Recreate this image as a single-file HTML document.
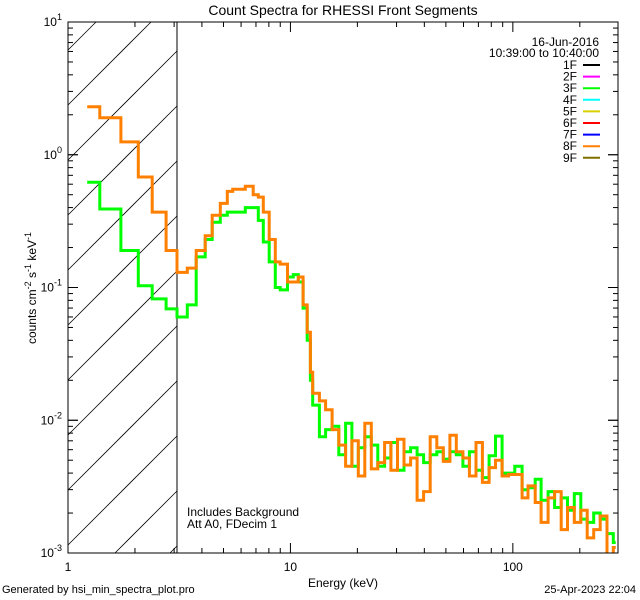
<!DOCTYPE html>
<html><head><meta charset="utf-8"><style>
html,body{margin:0;padding:0;background:#fff;overflow:hidden;width:640px;height:600px}
svg{display:block}
svg text{font-family:"Liberation Sans",sans-serif;fill:#000}
</style></head><body>
<svg id="chart" width="640" height="600" viewBox="0 0 640 600" xmlns="http://www.w3.org/2000/svg" overflow="hidden">
<rect width="640" height="600" fill="#fff"/>
<defs>
<clipPath id="pclip"><rect x="68" y="22" width="550" height="531"/></clipPath>
</defs>
<g id="hatch"></g>
<line x1="177" y1="22" x2="177" y2="553" stroke="#000" stroke-width="1"/>
<g id="series" clip-path="url(#pclip)"></g>
<rect x="68" y="22" width="550" height="531" fill="none" stroke="#000" stroke-width="1"/>
<g id="axes"></g>
<text x="343" y="15" font-size="14" text-anchor="middle">Count Spectra for RHESSI Front Segments</text>
<text x="343" y="587" font-size="12" text-anchor="middle">Energy (keV)</text>
<text transform="translate(36,288) rotate(-90)" font-size="12" text-anchor="middle">counts cm<tspan dy="-5" font-size="9">-2</tspan><tspan dy="5"> s</tspan><tspan dy="-5" font-size="9">-1</tspan><tspan dy="5"> keV</tspan><tspan dy="-5" font-size="9">-1</tspan></text>
<text x="187" y="516" font-size="12">Includes Background</text>
<text x="187" y="528" font-size="12">Att A0, FDecim 1</text>
<text x="2" y="593" font-size="11">Generated by hsi_min_spectra_plot.pro</text>
<text x="636" y="593" font-size="11" text-anchor="end">25-Apr-2023 22:04</text>
<text x="599" y="46" font-size="12" text-anchor="end">16-Jun-2016</text>
<text x="599" y="57" font-size="12" text-anchor="end">10:39:00 to 10:40:00</text>
<g id="legend"></g>
</svg>
<script>
const edges=[1.22,1.39,1.73,2.07,2.39,2.76,3.09,3.44,3.77,4.14,4.45,4.84,5.2,5.5,6.27,6.8,7.17,7.55,8.03,8.55,9.0,9.7,10.3,10.85,11.4,11.9,12.3,12.6,
13.5,14.4,15.4,16.5,17.7,18.9,20.2,21.6,23.1,24.7,26.5,28.3,30.3,32.4,34.7,37.1,39.7,42.5,45.5,48.7,52.1,55.7,59.6,63.8,68.3,73,78.2,83.6,89.5,95.7,102,110,117,126,134,144,154,165,176,189,202,216,231,247,265,283,290];
const seg8F=[2.3,1.9,1.25,0.68,0.37,0.19,0.13,0.14,0.19,0.245,0.35,0.43,0.53,0.55,0.58,0.5,0.48,0.37,0.23,0.156,0.15,0.11,0.11,0.12,0.074,0.046,0.023,
.016,.014,.012,.0085,.0065,.0045,.007,.0038,.0095,.0043,.0048,.0068,.0042,.0072,.0046,.0052,.0025,.0029,.0075,.0062,.0049,.0077,.0058,.0052,.0038,.0068,.0034,.0044,.005,.0038,.0039,.0039,.0026,.0032,.0024,.0017,.0026,.0029,.0015,.0022,.0017,.0021,.0013,.0015,.0019,.00095,.0011];
const seg3F=[0.62,0.39,0.19,0.103,0.082,0.069,0.06,0.074,0.17,0.23,0.31,0.35,0.37,0.37,0.4,0.4,0.32,0.22,0.156,0.1,0.096,0.12,0.125,0.11,0.07,0.04,0.02,
.013,.0075,.0085,.009,.0055,.0095,.0045,.0062,.0075,.0065,.0045,.0052,.0068,.0042,.0058,.0062,.0055,.0048,.0055,.0058,.0051,.0058,.0055,.0045,.0058,.0042,.0037,.0054,.0076,.004,.004,.0045,.003,.0031,.0036,.0025,.0029,.0022,.0026,.0021,.0028,.0018,.0017,.002,.0018,.0014,.0012];
const xTickLabels=["1","10","100"];
const yTickExps=["1","0","-1","-2","-3"];
const legendLabels=["1F","2F","3F","4F","5F","6F","7F","8F","9F"];
const legendColors=["#000000","#ff00ff","#00ff00","#00ffff","#d8d000","#ff0000","#0000ff","#ff8000","#807000"];

const NS="http://www.w3.org/2000/svg";
const X0=68,X1=618,Y0=22,Y1=553,XH=177;
const xmin=0,xmax=Math.log10(297),ymin=-3,ymax=1;
function sx(e){return X0+(Math.log10(e)-xmin)/(xmax-xmin)*(X1-X0);}
function sy(v){return Y1-(Math.log10(v)-ymin)/(ymax-ymin)*(Y1-Y0);}
function mk(t,a,p){const e=document.createElementNS(NS,t);for(const k in a)e.setAttribute(k,a[k]);p.appendChild(e);return e;}

const hatch=document.getElementById('hatch');
for(let c=Y0+28;c<Y1+(XH-X0);c+=55){
  let xa=X0,ya=c; if(ya>Y1){xa=X0+(ya-Y1);ya=Y1;}
  let xb=XH,yb=c-(XH-X0); if(yb<Y0){xb=X0+(c-Y0);yb=Y0;}
  const l=mk('line',{x1:xa,y1:ya,x2:xb,y2:yb,stroke:'#000','stroke-width':0.8},hatch);
  
  
}

const series=document.getElementById('series');
function drawSeries(vals,color,name){
  let d='';
  for(let i=0;i<vals.length;i++){
    const y=sy(vals[i]).toFixed(1);
    d+=(i===0?'M':'L')+sx(edges[i]).toFixed(1)+','+y+'L'+Math.min(sx(edges[i+1]),X1).toFixed(1)+','+y;
  }
  const p=mk('path',{d:d,fill:'none',stroke:color,'stroke-width':3,'stroke-linejoin':'miter'},series);
  
  
}
drawSeries(seg3F,'#00ff00','series-3f');
drawSeries(seg8F,'#ff8000','series-8f');

const axes=document.getElementById('axes');
for(let dec=0;dec<3;dec++){
  for(let m=1;m<10;m++){
    const e=Math.pow(10,dec)*m; if(e>297)break;
    const x=sx(e),len=(m===1)?10:5;
    const t1=mk('line',{x1:x,y1:Y1,x2:x,y2:Y1-len,stroke:'#000'},axes);
    
    
    const t2=mk('line',{x1:x,y1:Y0,x2:x,y2:Y0+len,stroke:'#000'},axes);
    
    
  }
}
xTickLabels.forEach(function(s){
  const t=mk('text',{x:sx(parseFloat(s)),y:571,'font-size':12,'text-anchor':'middle'},axes);
  t.textContent=s;
  
  
});
for(let dec=-3;dec<1;dec++){
  for(let m=1;m<=10;m++){
    const v=Math.pow(10,dec)*m, y=sy(v), len=(m===1||m===10)?10:5;
    const t1=mk('line',{x1:X0,y1:y,x2:X0+len,y2:y,stroke:'#000'},axes);
    
    
    const t2=mk('line',{x1:X1,y1:y,x2:X1-len,y2:y,stroke:'#000'},axes);
    
    
  }
}
yTickExps.forEach(function(s){
  const y=sy(Math.pow(10,parseFloat(s)));
  const t=mk('text',{x:62,y:y+4,'font-size':12,'text-anchor':'end'},axes);
  t.innerHTML='10<tspan dy="-6" font-size="9">'+s+'</tspan>';
  
  
});

const legend=document.getElementById('legend');
legendLabels.forEach(function(s,i){
  const y=65+i*11.6;
  const t=mk('text',{x:577,y:y+4,'font-size':12,'text-anchor':'end'},legend);
  t.textContent=s;
  
  
  const l=mk('line',{x1:583,y1:y,x2:600,y2:y,stroke:legendColors[i],'stroke-width':2},legend);
  
  
});
</script>
</body></html>
